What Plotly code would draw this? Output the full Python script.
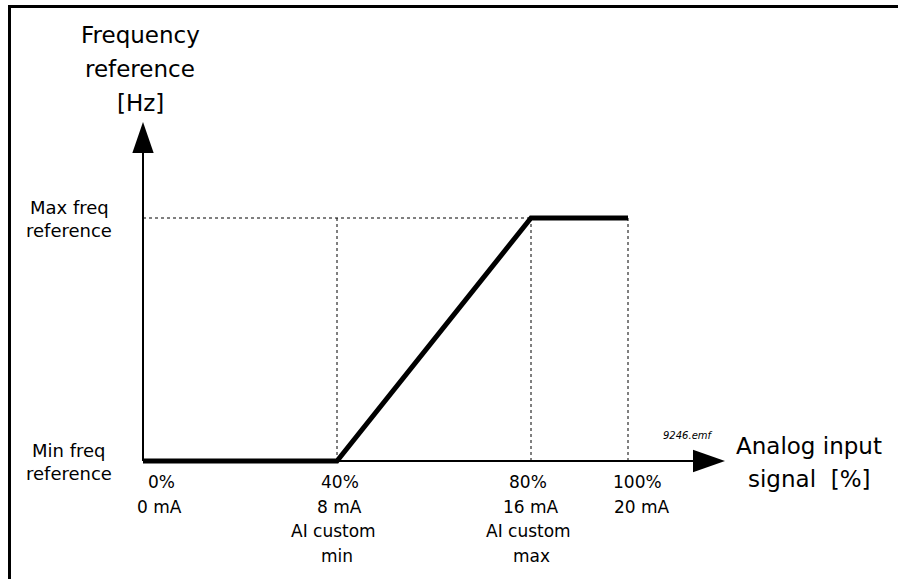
import plotly.graph_objects as go

# ---- data ----
signal_pct = [0, 40, 80, 100]           # analog input signal [%]
freq_ref = [0, 0, 1, 1]                 # 0 = Min freq reference, 1 = Max freq reference
tick_pct = [0, 40, 80, 100]
tick_lines = [
    ["0%", "0 mA"],
    ["40%", "8 mA", "AI custom", "min"],
    ["80%", "16 mA", "AI custom", "max"],
    ["100%", "20 mA"],
]
tick_xshift = [[18, 16], [3, 2, -4, 0], [-3, 0, -3, 0], [9, 14]]
y_labels = [["Max freq", "reference"], ["Min freq", "reference"]]
y_label_vals = [1, 0]
y_title = ["Frequency", "reference", "[Hz]"]
x_title = ["Analog input", "signal  [%]"]

W, H = 898, 579
FONT = "DejaVu Sans"
INK = "#000000"

# axis geometry (data units)
x_axis_end = 113.4
x_tip = 120
y_axis_end = 1.267
y_tip = 1.395

fig = go.Figure()

# guide dashed lines
for xv in [40, 80, 100]:
    fig.add_trace(go.Scatter(x=[xv, xv], y=[0, 1], mode="lines",
                             line=dict(color=INK, width=1, dash="3px,3px"),
                             hoverinfo="skip", showlegend=False))
fig.add_trace(go.Scatter(x=[0, 80], y=[1, 1], mode="lines",
                         line=dict(color=INK, width=1, dash="3px,3px"),
                         hoverinfo="skip", showlegend=False))

# axes
fig.add_trace(go.Scatter(x=[0, x_axis_end], y=[0, 0], mode="lines",
                         line=dict(color=INK, width=2), hoverinfo="skip", showlegend=False))
fig.add_trace(go.Scatter(x=[0, 0], y=[0, y_axis_end], mode="lines",
                         line=dict(color=INK, width=2), hoverinfo="skip", showlegend=False))
# arrow heads
fig.add_trace(go.Scatter(x=[x_axis_end, x_tip, x_axis_end, x_axis_end],
                         y=[-0.046, 0, 0.046, -0.046], mode="lines", fill="toself",
                         fillcolor=INK, line=dict(color=INK, width=0),
                         hoverinfo="skip", showlegend=False))
fig.add_trace(go.Scatter(x=[-2.2, 0, 2.2, -2.2],
                         y=[y_axis_end, y_tip, y_axis_end, y_axis_end], mode="lines", fill="toself",
                         fillcolor=INK, line=dict(color=INK, width=0),
                         hoverinfo="skip", showlegend=False))

# characteristic curve
fig.add_trace(go.Scatter(x=signal_pct, y=freq_ref, mode="lines",
                         line=dict(color=INK, width=5), hoverinfo="skip", showlegend=False))

# x range so that 0% -> px 143 and 100% -> px 628
ppx = (628 - 143) / 100.0
x0 = -143 / ppx
x1 = (W - 143) / ppx
# y range so that 0 -> px 461 and 1 -> px 218
ppy = 461 - 218
y0 = -(H - 461) / ppy
y1 = 461 / ppy

def px_x(p):
    return p / W

def px_y(p):
    return 1 - p / H

ann = []
# tick labels
for xv, lines, shifts in zip(tick_pct, tick_lines, tick_xshift):
    for i, (t, s) in enumerate(zip(lines, shifts)):
        ann.append(dict(x=xv, y=px_y(482 + 24.5 * i), xref="x", yref="paper", text=t,
                        showarrow=False, xanchor="center", yanchor="middle", xshift=s,
                        font=dict(family=FONT, size=17, color=INK)))
# y labels
for lines, yv in zip(y_labels, y_label_vals):
    for i, t in enumerate(lines):
        ann.append(dict(x=px_x(69), y=yv, xref="paper", yref="y", text=t,
                        showarrow=False, xanchor="center", yanchor="middle",
                        yshift=11 - 23.5 * i,
                        font=dict(family=FONT, size=18, color=INK)))
# y title
for i, t in enumerate(y_title):
    ann.append(dict(x=px_x(140), y=px_y(35 + 34 * i), xref="paper", yref="paper", text=t,
                    showarrow=False, xanchor="center", yanchor="middle",
                    font=dict(family=FONT, size=23, color=INK)))
# x title
for i, t in enumerate(x_title):
    ann.append(dict(x=px_x(809), y=px_y(446 + 33 * i), xref="paper", yref="paper", text=t,
                    showarrow=False, xanchor="center", yanchor="middle",
                    font=dict(family=FONT, size=23, color=INK)))
# file tag
ann.append(dict(x=px_x(688), y=px_y(435), xref="paper", yref="paper", text="<i>9246.emf</i>",
                showarrow=False, xanchor="center", yanchor="middle",
                font=dict(family=FONT, size=10, color=INK)))

shapes = [
    dict(type="line", xref="paper", yref="paper", x0=px_x(8), x1=px_x(W + 4),
         y0=px_y(6.5), y1=px_y(6.5), line=dict(color=INK, width=3)),
    dict(type="line", xref="paper", yref="paper", x0=px_x(9.5), x1=px_x(9.5),
         y0=px_y(5), y1=px_y(H + 4), line=dict(color=INK, width=3)),
]

fig.update_layout(
    width=W, height=H,
    margin=dict(l=0, r=0, t=0, b=0),
    paper_bgcolor="white", plot_bgcolor="white",
    xaxis=dict(range=[x0, x1], visible=False, fixedrange=True),
    yaxis=dict(range=[y0, y1], visible=False, fixedrange=True),
    annotations=ann, shapes=shapes, showlegend=False,
)

fig.write_html(
    "out.html",
    config={"displayModeBar": False, "staticPlot": True},
    post_script=(
        "document.documentElement.style.margin='0';"
        "document.documentElement.style.overflow='hidden';"
        "document.body.style.margin='0';document.body.style.padding='0';"
        "document.body.style.overflow='hidden';"
    ),
)
